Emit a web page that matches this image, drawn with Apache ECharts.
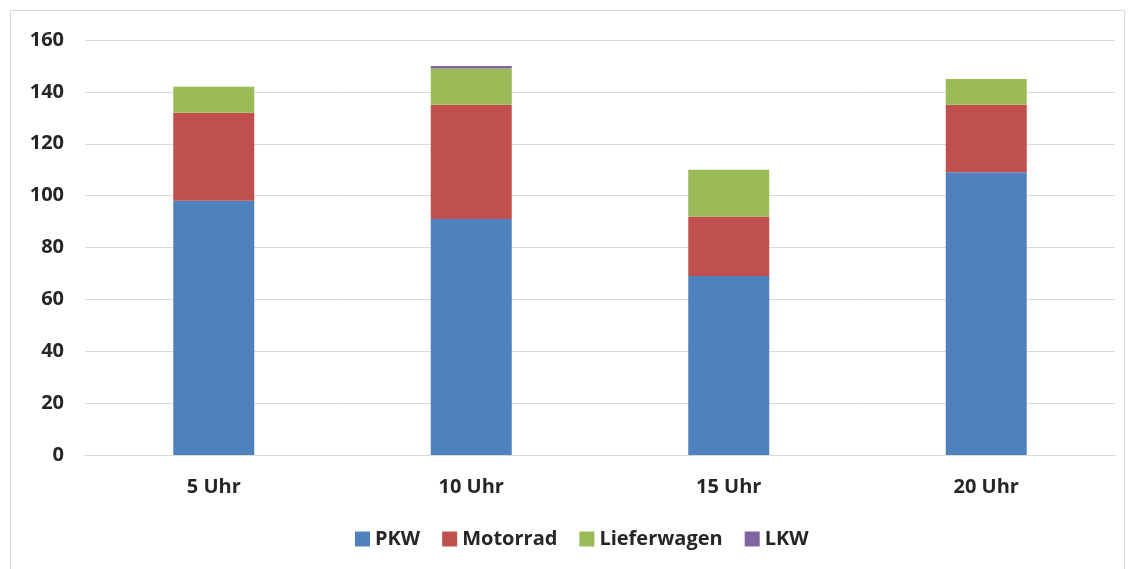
<!DOCTYPE html>
<html lang="de">
<head>
    <meta charset="utf-8">
    <title>Verkehrszählung</title>
    <script src="https://cdn.jsdelivr.net/npm/echarts@6/dist/echarts.min.js"></script>
    <style>
        html, body { margin: 0; padding: 0; background: #fff; }
        #chart { width: 1133px; height: 569px; }
    </style>
</head>
<body>
<div id="chart"></div>
<script type="text/javascript">
    // Daten
    var categories = ['5 Uhr', '10 Uhr', '15 Uhr', '20 Uhr'];
    var pkw = [98, 91, 69, 109];
    var motorrad = [34, 44, 23, 26];
    var lieferwagen = [10, 14, 18, 10];
    var lkw = [0, 1, 0, 0];

    var fontFamily = '"Open Sans", "Liberation Sans", sans-serif';
    var textColor = '#262626';

    function barSeries(name, data, color) {
        return {
            name: name,
            type: 'bar',
            stack: 'total',
            data: data,
            barWidth: 81,
            itemStyle: { color: color },
            emphasis: { disabled: true }
        };
    }

    var myChart = echarts.init(document.getElementById('chart'));
    var option = {
        backgroundColor: '#ffffff',
        animation: false,
        graphic: [{
            type: 'rect',
            shape: { x: 10.5, y: 10.5, width: 1114, height: 570 },
            style: { fill: 'none', stroke: '#d9d9d9', lineWidth: 1 },
            silent: true
        }],
        grid: { left: 85, right: 18, top: 40, bottom: 114 },
        legend: {
            bottom: 15,
            left: 350,
            itemWidth: 15,
            itemHeight: 15,
            itemGap: 22,
            icon: 'rect',
            textStyle: { fontFamily: fontFamily, fontSize: 20, fontWeight: 'bold', color: textColor },
            data: ['PKW', 'Motorrad', 'Lieferwagen', 'LKW']
        },
        xAxis: {
            type: 'category',
            data: categories,
            axisTick: { show: false },
            axisLine: { lineStyle: { color: '#d9d9d9', width: 1 } },
            axisLabel: { fontFamily: fontFamily, fontSize: 20, fontWeight: 'bold', color: textColor, margin: 22 }
        },
        yAxis: {
            type: 'value',
            min: 0,
            max: 160,
            interval: 20,
            axisLine: { show: false },
            axisTick: { show: false },
            splitLine: { lineStyle: { color: '#d9d9d9', width: 1 } },
            axisLabel: { fontFamily: fontFamily, fontSize: 20, fontWeight: 'bold', color: textColor, margin: 21 }
        },
        series: [
            barSeries('PKW', pkw, '#4f81bd'),
            barSeries('Motorrad', motorrad, '#c0504d'),
            barSeries('Lieferwagen', lieferwagen, '#9bbb59'),
            barSeries('LKW', lkw, '#8064a2')
        ]
    };
    myChart.setOption(option);
</script>
</body>
</html>
